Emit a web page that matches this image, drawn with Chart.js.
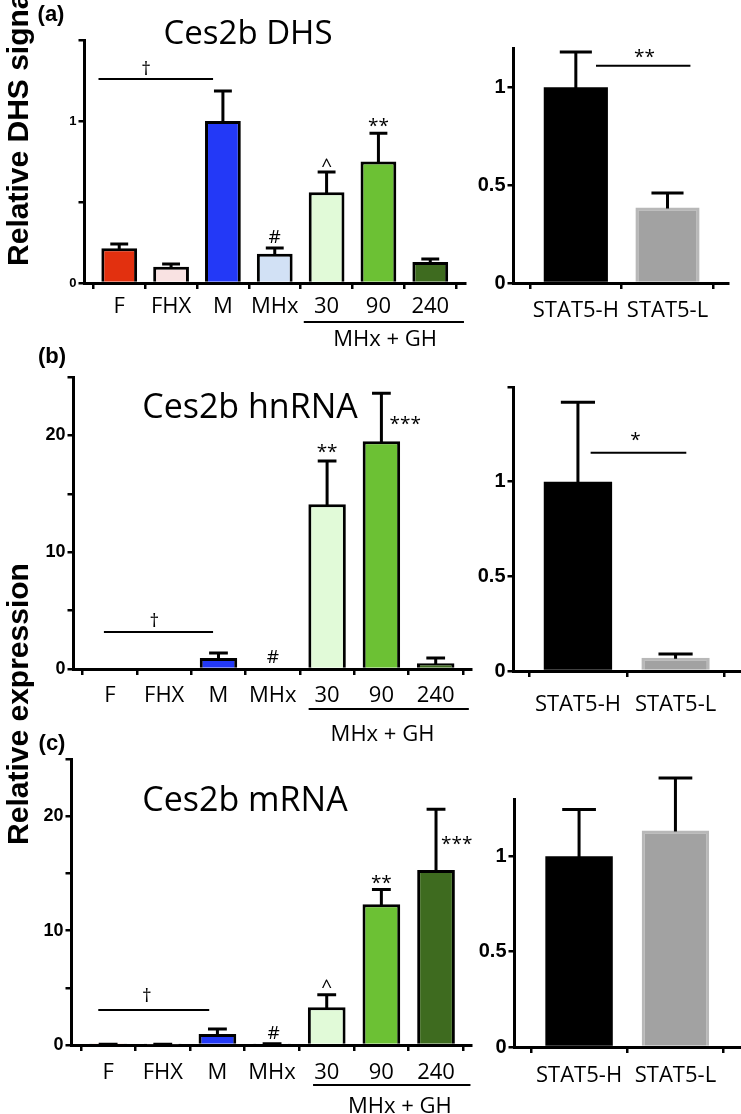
<!DOCTYPE html>
<html><head><meta charset="utf-8">
<script src="https://cdn.jsdelivr.net/npm/chart.js@4.4.1/dist/chart.umd.min.js"></script>
<style>
html,body{margin:0;padding:0;background:#fff;}
body{width:741px;height:1114px;position:relative;overflow:hidden;}
canvas{position:absolute;}
.t{position:absolute;white-space:nowrap;transform:translate(-50%,-50%);line-height:1;color:#000;z-index:5;}
.yt{font:bold 30px 'Liberation Sans',Arial,sans-serif;transform:translate(-50%,-50%) rotate(-90deg);line-height:30px;}
.ttl{font-family:'Open Sans',sans-serif;}
.pl{font:bold 22px 'Liberation Sans',Arial,sans-serif;}
</style></head><body>
<div class="t pl" style="left:51px;top:14px">(a)</div>
<div class="t pl" style="left:52px;top:356px">(b)</div>
<div class="t pl" style="left:52px;top:743px">(c)</div>
<div class="t yt" style="left:18px;top:125px">Relative DHS signal</div>
<div class="t yt" style="left:18px;top:704px">Relative expression</div>
<div class="t ttl" style="left:248px;top:31px;font-size:33px">Ces2b DHS</div>
<div class="t ttl" style="left:250px;top:405px;font-size:34px">Ces2b hnRNA</div>
<div class="t ttl" style="left:245px;top:798px;font-size:34px">Ces2b mRNA</div>
<script>
// ---------- data ----------
const mainCategories = ['F','FHX','M','MHx','30','90','240'];
const statCategories = ['STAT5-H','STAT5-L'];
const mainColors = ['#e2300f','#f9e2e2','#2339f7','#d2e1f5','#e1fad8','#6cc134','#3e6b1f'];
const statColors = ['#000000','#a2a2a2'];
const statBorders = ['#000000','#b8b8b8'];

const dhsMean = [0.215, 0.10, 1.0, 0.18, 0.56, 0.75, 0.13];
const dhsSem  = [0.025, 0.017, 0.185, 0.036, 0.125, 0.175, 0.018];
const hnMean  = [0, 0, 0.95, 0, 14.1, 19.5, 0.5];
const hnSem   = [0, 0, 0.42, 0, 3.7, 4.1, 0.45];
const mrMean  = [0.05, 0.04, 0.96, 0.08, 3.3, 12.3, 15.3];
const mrSem   = [0.02, 0.02, 0.44, 0.03, 1.1, 1.3, 5.3];

const dhsStatMean = [1.0, 0.385];
const dhsStatSem  = [0.18, 0.075];
const hnStatMean  = [1.0, 0.07];
const hnStatSem   = [0.42, 0.02];
const mrStatMean  = [1.0, 1.135];
const mrStatSem   = [0.245, 0.275];

const dhsTicks = [0, 0.5, 1, 1.5];
const dhsTickLabels = ['0', '', '1', ''];
const exprTicks = [0, 5, 10, 15, 20, 25];
const exprTickLabels = ['0', '', '10', '', '20', ''];
const statTicksA = [0, 0.5, 1];
const statTicksB = [0, 0.5, 1, 1.5];
const statTicksC = [0, 0.5, 1];
const statTickLabelsA = ['0', '0.5', '1'];
const statTickLabelsB = ['0', '0.5', '1', ''];
const statTickLabelsC = ['0', '0.5', '1'];

// ---------- plugins ----------
function inkText(ctx, t, x, y) {
  ctx.textAlign = 'center';
  ctx.textBaseline = 'alphabetic';
  const m = ctx.measureText(t);
  ctx.fillText(t, x, y + (m.actualBoundingBoxAscent - m.actualBoundingBoxDescent) / 2);
}
const errPlugin = {
  id: 'errbars',
  afterDatasetsDraw(chart, args, o) {
    if (!o || !o.sem) return;
    const ctx = chart.ctx, ys = chart.scales.y;
    const meta = chart.getDatasetMeta(0);
    const data = chart.data.datasets[0].data;
    ctx.save();
    ctx.strokeStyle = '#000'; ctx.lineWidth = o.lw || 2.5; ctx.lineCap = 'butt';
    meta.data.forEach((bar, i) => {
      const s = o.sem[i];
      if (!s) return;
      const yTop = ys.getPixelForValue(data[i].y + s);
      const half = bar.width * (o.cap || 0.5) / 2;
      ctx.beginPath();
      ctx.moveTo(bar.x, bar.y + 1); ctx.lineTo(bar.x, yTop);
      ctx.moveTo(bar.x - half, yTop); ctx.lineTo(bar.x + half, yTop);
      ctx.stroke();
    });
    ctx.restore();
  }
};
const marksPlugin = {
  id: 'marks',
  afterDraw(chart, args, o) {
    if (!o) return;
    const ctx = chart.ctx, ca = chart.chartArea, xs = chart.scales.x, ys = chart.scales.y;
    ctx.save();
    ctx.strokeStyle = '#000'; ctx.fillStyle = '#000'; ctx.lineWidth = 2;
    (o.lines || []).forEach(l => {
      const y = ys.getPixelForValue(l.y);
      ctx.beginPath(); ctx.moveTo(xs.getPixelForValue(l.x1), y); ctx.lineTo(xs.getPixelForValue(l.x2), y); ctx.stroke();
    });
    ctx.font = "19px 'Open Sans', sans-serif";
    (o.texts || []).forEach(t => inkText(ctx, t.t, xs.getPixelForValue(t.x), ys.getPixelForValue(t.y)));
    if (o.bracket) {
      const b = o.bracket, y = ca.bottom + b.dy;
      ctx.beginPath(); ctx.moveTo(xs.getPixelForValue(b.x1), y); ctx.lineTo(xs.getPixelForValue(b.x2), y); ctx.stroke();
      ctx.font = "22px 'Open Sans', sans-serif";
      inkText(ctx, b.t, xs.getPixelForValue(b.tx), ca.bottom + b.tdy);
    }
    ctx.restore();
  }
};
Chart.register(errPlugin, marksPlugin);

// ---------- panel builder ----------
function panel(p) {
  const cv = document.createElement('canvas');
  cv.width = p.w; cv.height = p.h;
  cv.style.left = p.x + 'px'; cv.style.top = p.y + 'px';
  document.body.appendChild(cv);
  const yW = p.area.l - p.x, padTop = p.area.t - p.y, padRight = p.x + p.w - p.area.r, xH = p.y + p.h - p.area.b;
  const axisGrid = { display: true, drawOnChartArea: false, drawTicks: true, tickLength: 6, lineWidth: 2.5, color: '#000' };
  const axisBorder = { display: true, width: 3, color: '#000' };
  new Chart(cv, {
    type: 'bar',
    data: { datasets: [{
      data: p.mean.map((v, i) => ({ x: i, y: v })),
      backgroundColor: p.colors, borderColor: p.borders, borderWidth: p.bw,
      barPercentage: p.barPct, categoryPercentage: 1
    }] },
    options: {
      responsive: false, animation: false, events: [],
      layout: { autoPadding: false, padding: { left: 0, top: padTop, right: padRight, bottom: 0 } },
      plugins: {
        legend: { display: false }, tooltip: { enabled: false }, title: { display: false },
        errbars: { sem: p.sem, cap: 0.5, lw: 3 },
        marks: p.marks
      },
      scales: {
        x: {
          type: 'linear', min: p.xmin, max: p.xmax, offset: false,
          afterBuildTicks: a => { a.ticks = p.cats.map((c, i) => ({ value: i })); },
          afterFit: s => { s.height = xH; },
          ticks: { autoSkip: false, maxRotation: 0, minRotation: 0, padding: p.xpad, color: '#000',
            font: { family: "'Open Sans', sans-serif", size: 22 },
            callback: (v) => p.cats[Math.round(v)] },
          grid: axisGrid, border: axisBorder
        },
        y: {
          type: 'linear', min: 0, max: p.ymax,
          afterBuildTicks: a => { a.ticks = p.yticks.map(v => ({ value: v })); },
          afterFit: s => { s.width = yW; },
          ticks: { autoSkip: false, padding: 2, color: '#000',
            font: { family: "'Liberation Sans Narrow','Arial Narrow','Liberation Sans',sans-serif", size: p.yfs, weight: 'bold' },
            callback: (v) => p.ylabels[p.yticks.indexOf(v)] },
          grid: axisGrid, border: axisBorder
        }
      }
    }
  });
}

const leftBorders = mainColors.map(() => '#000000');

panel({ x: 0, y: 0, w: 480, h: 350, area: { l: 84.5, r: 465, t: 40, b: 283 },
  cats: mainCategories, mean: dhsMean, sem: dhsSem, colors: mainColors, borders: leftBorders, bw: 3, barPct: 0.69,
  xmin: -0.67, xmax: 6.67, xpad: 5, ymax: 1.5, yticks: dhsTicks, ylabels: dhsTickLabels, yfs: 13,
  marks: { lines: [{ x1: -0.40, x2: 1.81, y: 1.26 }],
    texts: [{ x: 0.52, y: 1.33, t: '†' }, { x: 3, y: 0.284, t: '#' }, { x: 4, y: 0.745, t: '^' }, { x: 5, y: 0.99, t: '**' }],
    bracket: { x1: 3.56, x2: 6.65, dy: 39, tx: 5.13, tdy: 55, t: 'MHx + GH' } } });

panel({ x: 478, y: 0, w: 263, h: 350, area: { l: 513.5, r: 728, t: 48, b: 283 },
  cats: statCategories, mean: dhsStatMean, sem: dhsStatSem, colors: statColors, borders: statBorders, bw: [0, 3], barPct: 0.70,
  xmin: -0.68, xmax: 1.66, xpad: 9, ymax: 1.2, yticks: statTicksA, ylabels: statTickLabelsA, yfs: 20,
  marks: { lines: [{ x1: 0.22, x2: 1.25, y: 1.11 }], texts: [{ x: 0.75, y: 1.17, t: '**' }] } });

panel({ x: 0, y: 345, w: 480, h: 400, area: { l: 73.5, r: 471, t: 377, b: 669 },
  cats: mainCategories, mean: hnMean, sem: hnSem, colors: mainColors, borders: leftBorders, bw: 3, barPct: 0.69,
  xmin: -0.67, xmax: 6.65, xpad: 8, ymax: 25, yticks: exprTicks, ylabels: exprTickLabels, yfs: 18,
  marks: { lines: [{ x1: -0.11, x2: 1.9, y: 3.17 }],
    texts: [{ x: 0.82, y: 4.2, t: '†' }, { x: 3, y: 1.1, t: '#' }, { x: 4, y: 18.85, t: '**' }, { x: 5.44, y: 21.3, t: '***' }],
    bracket: { x1: 3.66, x2: 6.61, dy: 40, tx: 5.02, tdy: 64, t: 'MHx + GH' } } });

panel({ x: 478, y: 345, w: 263, h: 400, area: { l: 513.5, r: 740, t: 387, b: 671 },
  cats: statCategories, mean: hnStatMean, sem: hnStatSem, colors: statColors, borders: statBorders, bw: [0, 3], barPct: 0.70,
  xmin: -0.66, xmax: 1.66, xpad: 15, ymax: 1.5, yticks: statTicksB, ylabels: statTickLabelsB, yfs: 20,
  marks: { lines: [{ x1: 0.13, x2: 1.11, y: 1.153 }], texts: [{ x: 0.59, y: 1.24, t: '*' }] } });

panel({ x: 0, y: 740, w: 480, h: 374, area: { l: 71.5, r: 471, t: 759, b: 1045 },
  cats: mainCategories, mean: mrMean, sem: mrSem, colors: mainColors, borders: leftBorders, bw: 3, barPct: 0.69,
  xmin: -0.67, xmax: 6.64, xpad: 9, ymax: 25, yticks: exprTicks, ylabels: exprTickLabels, yfs: 18,
  marks: { lines: [{ x1: -0.18, x2: 1.85, y: 3.05 }],
    texts: [{ x: 0.71, y: 4.36, t: '†' }, { x: 3.03, y: 1.13, t: '#' }, { x: 4, y: 5.4, t: '^' }, { x: 5, y: 14.5, t: '**' }, { x: 6.38, y: 17.9, t: '***' }],
    bracket: { x1: 3.75, x2: 6.63, dy: 40, tx: 5.34, tdy: 60, t: 'MHx + GH' } } });

panel({ x: 478, y: 740, w: 263, h: 374, area: { l: 514.5, r: 740, t: 799, b: 1047 },
  cats: statCategories, mean: mrStatMean, sem: mrStatSem, colors: statColors, borders: statBorders, bw: [0, 3], barPct: 0.70,
  xmin: -0.67, xmax: 1.67, xpad: 10, ymax: 1.3, yticks: statTicksC, ylabels: statTickLabelsC, yfs: 20,
  marks: { lines: [], texts: [] } });
</script>
</body></html>
